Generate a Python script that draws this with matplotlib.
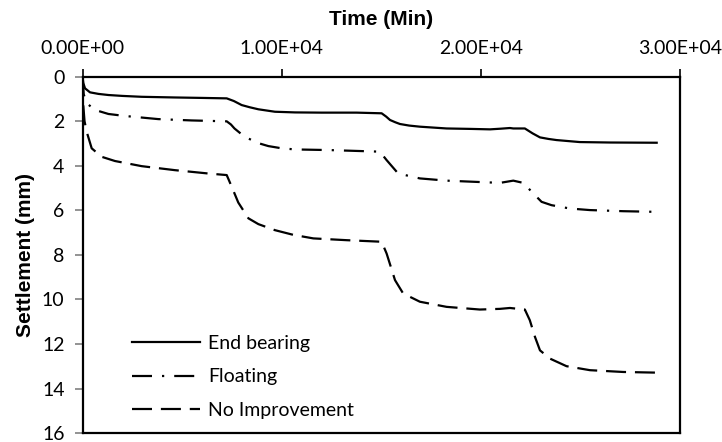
import matplotlib
matplotlib.use("Agg")
import matplotlib.pyplot as plt

# settlement vs time for the three foundation cases
end_t = [0, 40, 125, 376, 800, 1300, 2000, 2970, 4640, 6000, 7240, 7600, 7990, 8400, 8830, 9660,
         10670, 12000, 13760, 15020, 15250, 15440, 15700, 15940, 16400, 16940, 18280, 19500, 20460,
         21000, 21460, 21630, 22210, 22600, 22970, 23400, 23800, 24970, 26500, 28830]
end_s = [0, 0.3, 0.53, 0.71, 0.78, 0.83, 0.87, 0.91, 0.94, 0.96, 0.98, 1.1, 1.28, 1.38, 1.47, 1.58,
         1.61, 1.62, 1.62, 1.65, 1.8, 1.95, 2.05, 2.13, 2.2, 2.25, 2.33, 2.35, 2.37,
         2.34, 2.31, 2.33, 2.33, 2.55, 2.73, 2.8, 2.85, 2.94, 2.96, 2.97]

float_t = [0, 60, 210, 630, 1300, 2130, 3800, 5480, 7240, 7450, 7630, 8000, 8330, 8800, 9330, 10000,
           10670, 12420, 14930, 15270, 15850, 16940, 18280, 20960, 21630, 22130, 22630, 23050, 23550,
           24470, 25480, 27150, 28830]
float_s = [0, 0.8, 1.2, 1.5, 1.68, 1.77, 1.91, 1.97, 2.01, 2.15, 2.33, 2.6, 2.78, 2.98, 3.12, 3.22,
           3.27, 3.30, 3.37, 3.75, 4.35, 4.57, 4.67, 4.77, 4.67, 4.77, 5.24, 5.62, 5.77,
           5.92, 5.99, 6.04, 6.07]

noimp_t = [0, 30, 100, 210, 460, 960, 1630, 2970, 4640, 6320, 7240, 7490, 7820, 8330, 8830, 9660,
           10580, 11590, 13260, 15020, 15270, 15690, 16100, 16940, 18280, 19950, 20960, 21460, 22210,
           22460, 22720, 22970, 23470, 24300, 25480, 27150, 28830]
noimp_s = [0, 1.2, 2.0, 2.48, 3.22, 3.6, 3.79, 4.02, 4.2, 4.35, 4.42, 4.94, 5.65, 6.36, 6.62, 6.89,
           7.1, 7.26, 7.34, 7.41, 7.94, 9.13, 9.73, 10.1, 10.33, 10.45, 10.42, 10.38, 10.45,
           10.93, 11.68, 12.28, 12.65, 12.99, 13.17, 13.25, 13.28]

x_ticks = [0, 10000, 20000, 30000]
x_labels = ["0.00E+00", "1.00E+04", "2.00E+04", "3.00E+04"]
y_ticks = [0, 2, 4, 6, 8, 10, 12, 14, 16]

plt.rcParams['font.family'] = ['Lato', 'DejaVu Sans']

fig = plt.figure(figsize=(7.22, 4.42), dpi=100)
ax = fig.add_axes([0.1143, 0.0197, 0.8275, 0.8072])

lw = 1.6
ax.plot(end_t, end_s, color='black', lw=lw, linestyle='-', label='End bearing')
ax.plot(float_t, float_s, color='black', lw=lw, linestyle=(0, (9, 4.5, 1, 4.5)), label='Floating')
ax.plot(noimp_t, noimp_s, color='black', lw=lw, linestyle=(0, (9, 4)), label='No Improvement')

ax.set_xlim(0, 30000)
ax.set_ylim(16, 0)
ax.xaxis.tick_top()
ax.xaxis.set_label_position('top')
ax.set_xticks(x_ticks)
ax.set_xticklabels(x_labels)
ax.set_yticks(y_ticks)
ax.tick_params(axis='x', direction='out', length=6, width=1.2, color='black', labelsize=14, pad=8)
ax.tick_params(axis='y', direction='out', length=6, width=1.2, color='#808080', labelsize=14, pad=7)

for side in ['top', 'bottom', 'left', 'right']:
    ax.spines[side].set_linewidth(1.6)
    ax.spines[side].set_color('black')

ax.set_xlabel('Time (Min)', fontsize=15, fontweight='bold', family='Liberation Sans')
ax.set_ylabel('Settlement (mm)', fontsize=15, fontweight='bold', family='Liberation Sans')
ax.xaxis.set_label_coords(0.5, 1.144)
ax.yaxis.set_label_coords(-0.08, 0.5)

ax.legend(loc='lower left', bbox_to_anchor=(0.083, 0.04), frameon=False, fontsize=14,
          handlelength=3.5, handletextpad=0.4, labelspacing=0.85, borderpad=0, borderaxespad=0)

plt.savefig('out.png', dpi=100)
